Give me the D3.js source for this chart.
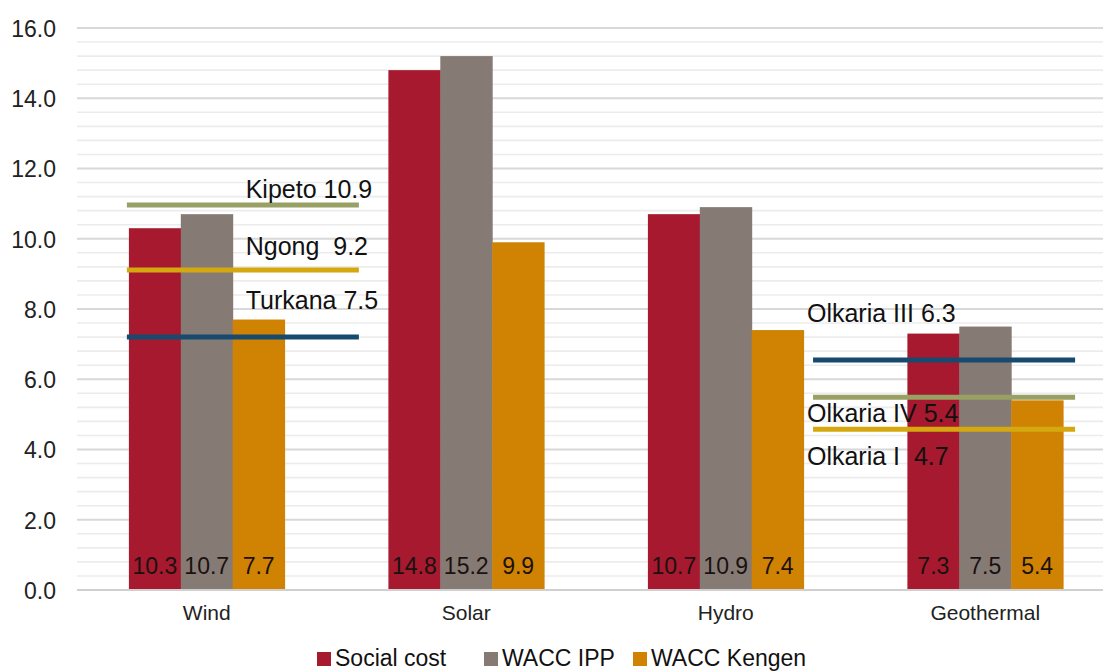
<!DOCTYPE html>
<html>
<head>
<meta charset="utf-8">
<script src="https://cdn.jsdelivr.net/npm/d3@7"></script>
<style>
  html, body { margin: 0; padding: 0; background: #fff; }
  svg { display: block; font-family: "Liberation Sans", Arial, sans-serif; }
</style>
</head>
<body>
<svg id="chart" width="1103" height="672"></svg>
<script>
// ---- data ----
const categories = ["Wind", "Solar", "Hydro", "Geothermal"];
const seriesNames = ["Social cost", "WACC IPP", "WACC Kengen"];
const socialCost = [10.3, 14.8, 10.7, 7.3];
const waccIPP = [10.7, 15.2, 10.9, 7.5];
const waccKengen = [7.7, 9.9, 7.4, 5.4];
const yTicks = [0, 2, 4, 6, 8, 10, 12, 14, 16];

// reference lines (plant-level costs), drawn level
const refNames = ["Kipeto", "Ngong", "Turkana", "Olkaria III", "Olkaria IV", "Olkaria I"];
const refLabels = ["Kipeto 10.9", "Ngong  9.2", "Turkana 7.5", "Olkaria III 6.3", "Olkaria IV 5.4", "Olkaria I  4.7"];
const refLevels = [10.96, 9.11, 7.2, 6.55, 5.49, 4.58];
const refCategory = ["Wind", "Wind", "Wind", "Geothermal", "Geothermal", "Geothermal"];
const refType = ["olive", "gold", "blue", "blue", "olive", "gold"];

// ---- layout / style ----
const W = 1103, H = 672;
const colors = ["#A6192E", "#857B74", "#D08202"];
const refColors = { olive: "#98A064", gold: "#D4A80E", blue: "#174A6E" };
// line spans and label placement relative to the group's band (fractions of band width)
const refLayout = {
  Wind: { x0: -0.013, x1: 1.477, lx: 0.75 },
  Geothermal: { x0: -0.606, x1: 1.077, lx: -0.645 }
};
const labelDy = [-7, -15, -28, -38, 25, 36];

const svg = d3.select("#chart");

const x = d3.scaleBand().domain(categories).range([77, 1115]).paddingInner(0.4).paddingOuter(0.2);
const xs = d3.scaleBand().domain(seriesNames).range([0, x.bandwidth()]).padding(0);
const y = d3.scaleLinear().domain([0, 16]).range([590, 28]);

// grid
const minor = d3.range(0, 16.0001, 0.4).filter(v => Math.abs(v / 2 - Math.round(v / 2)) > 1e-6);
const grid = svg.append("g");
grid.selectAll("line.minor").data(minor).join("line")
  .attr("x1", 77).attr("x2", W)
  .attr("y1", d => y(d)).attr("y2", d => y(d))
  .attr("stroke", "#ececec").attr("stroke-width", 1.6);
grid.selectAll("line.major").data(yTicks.filter(d => d > 0)).join("line")
  .attr("x1", 77).attr("x2", W)
  .attr("y1", d => y(d)).attr("y2", d => y(d))
  .attr("stroke", "#d8d8d8").attr("stroke-width", 2);

// y axis labels
const yAxis = d3.axisLeft(y).tickValues(yTicks).tickFormat(d3.format(".1f")).tickSize(0).tickPadding(0);
const yg = svg.append("g").attr("transform", "translate(56,0)").call(yAxis);
yg.select(".domain").remove();
yg.selectAll("text").attr("font-size", 23).attr("fill", "#222").attr("dy", "0.36em")
  .attr("font-family", "'Liberation Sans', Arial, sans-serif");

// bars
const series = [socialCost, waccIPP, waccKengen];
const barData = [];
categories.forEach((c, i) => seriesNames.forEach((s, j) => barData.push({ c, s, j, v: series[j][i] })));

svg.append("g").selectAll("rect").data(barData).join("rect")
  .attr("x", d => x(d.c) + xs(d.s))
  .attr("y", d => y(d.v))
  .attr("width", xs.bandwidth() + 0.5)
  .attr("height", d => y(0) - y(d.v))
  .attr("fill", d => colors[d.j]);

// x axis line
svg.append("line").attr("x1", 77).attr("x2", W).attr("y1", y(0)).attr("y2", y(0))
  .attr("stroke", "#d0d0d0").attr("stroke-width", 2);

// bar value labels
svg.append("g").selectAll("text").data(barData).join("text")
  .attr("x", d => x(d.c) + xs(d.s) + xs.bandwidth() / 2)
  .attr("y", 574)
  .attr("text-anchor", "middle")
  .attr("font-size", 23)
  .attr("fill", "#1a1111")
  .text(d => d3.format(".1f")(d.v));

// category labels
const xAxis = d3.axisBottom(x).tickSize(0).tickPadding(0);
const xg = svg.append("g").attr("transform", "translate(0,605)").call(xAxis);
xg.select(".domain").remove();
xg.selectAll("text").attr("font-size", 21).attr("fill", "#222").attr("dy", "0.72em")
  .attr("font-family", "'Liberation Sans', Arial, sans-serif");

// reference lines
const refs = refNames.map((n, i) => ({ n, label: refLabels[i], v: refLevels[i], c: refCategory[i], t: refType[i], i }));
svg.append("g").selectAll("line").data(refs).join("line")
  .attr("x1", d => x(d.c) + refLayout[d.c].x0 * x.bandwidth())
  .attr("x2", d => x(d.c) + refLayout[d.c].x1 * x.bandwidth())
  .attr("y1", d => y(d.v)).attr("y2", d => y(d.v))
  .attr("stroke", d => refColors[d.t]).attr("stroke-width", 5);

svg.append("g").selectAll("text").data(refs).join("text")
  .attr("x", d => x(d.c) + refLayout[d.c].lx * x.bandwidth())
  .attr("y", d => y(d.v) + labelDy[d.i])
  .attr("font-size", 25)
  .attr("fill", "#111")
  .style("white-space", "pre")
  .text(d => d.label);

// legend
const legX = [317, 484, 633];
const leg = svg.append("g").selectAll("g").data(seriesNames).join("g")
  .attr("transform", (d, i) => `translate(${legX[i]},0)`);
leg.append("rect").attr("x", 0).attr("y", 652).attr("width", 14).attr("height", 14)
  .attr("fill", (d, i) => colors[i]);
leg.append("text").attr("x", 18).attr("y", 666).attr("font-size", 23).attr("fill", "#111").text(d => d);
</script>
</body>
</html>
